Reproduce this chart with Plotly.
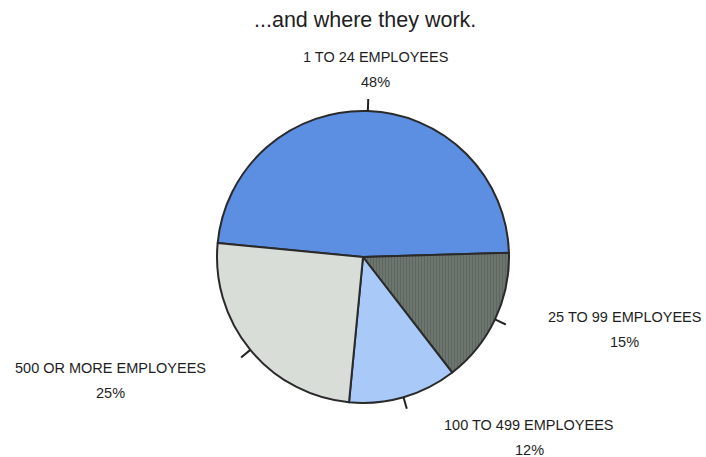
import math
import plotly.graph_objects as go

# ---- data ----
categories = ["1 TO 24 EMPLOYEES", "25 TO 99 EMPLOYEES", "100 TO 499 EMPLOYEES", "500 OR MORE EMPLOYEES"]
shares = [48, 15, 12, 25]
title_text = "...and where they work."

# ---- style / layout ----
W, H = 706, 457
colors = ["#5c8fe2", "#6d766e", "#a9c9f8", "#d8ddd8"]
patterns = ["", "|", "", ""]
pattern_fg = ["#5c8fe2", "#5c645d", "#a9c9f8", "#d8ddd8"]
CX, CY, R = 363, 257, 146          # pie centre / radius in pixels
START = -84.5                     # clockwise degrees from 12 o'clock
FONT = "Liberation Sans, Arial, sans-serif"
TXT = "#1e1e1e"

fig = go.Figure(go.Pie(
    labels=categories,
    values=shares,
    sort=False,
    direction="clockwise",
    rotation=START,
    textinfo="none",
    hoverinfo="label+percent",
    marker=dict(
        colors=colors,
        line=dict(color="#2a2a2a", width=2),
        pattern=dict(shape=patterns, fgcolor=pattern_fg, bgcolor=colors,
                     fillmode="replace", size=3, solidity=0.3),
    ),
    domain=dict(x=[(CX - R) / W, (CX + R) / W], y=[(H - CY - R) / H, (H - CY + R) / H]),
    showlegend=False,
))

# label placement (pixels) for each category, label line then percent line
label_pos = [(375, 57), (624, 317), (529, 425), (110, 368)]
pct_gap = 25

shapes = []
annotations = []
total = sum(shares)
cum = 0.0
for cat, val, (lx, ly) in zip(categories, shares, label_pos):
    mid = START + 360.0 * (cum + val / 2.0) / total
    cum += val
    a = math.radians(mid)
    x0 = CX + R * math.sin(a)
    y0 = CY - R * math.cos(a)
    x1 = CX + (R + 12) * math.sin(a)
    y1 = CY - (R + 12) * math.cos(a)
    shapes.append(dict(type="line", xref="paper", yref="paper",
                       x0=x0 / W, y0=1 - y0 / H, x1=x1 / W, y1=1 - y1 / H,
                       line=dict(color="#222222", width=2)))
    annotations.append(dict(text=cat, x=lx / W, y=1 - ly / H, xref="paper", yref="paper",
                            showarrow=False, xanchor="center", yanchor="middle",
                            font=dict(family=FONT, size=14.5, color=TXT)))
    annotations.append(dict(text=f"{val}%", x=lx / W, y=1 - (ly + pct_gap) / H,
                            xref="paper", yref="paper", showarrow=False,
                            xanchor="center", yanchor="middle",
                            font=dict(family=FONT, size=14.5, color=TXT)))

annotations.append(dict(text=title_text, x=365 / W, y=1 - 20 / H, xref="paper", yref="paper",
                        showarrow=False, xanchor="center", yanchor="middle",
                        font=dict(family=FONT, size=21.5, color=TXT)))

fig.update_layout(
    width=W, height=H,
    margin=dict(l=0, r=0, t=0, b=0),
    paper_bgcolor="white", plot_bgcolor="white",
    shapes=shapes, annotations=annotations,
)

fig.write_html("out.html")
